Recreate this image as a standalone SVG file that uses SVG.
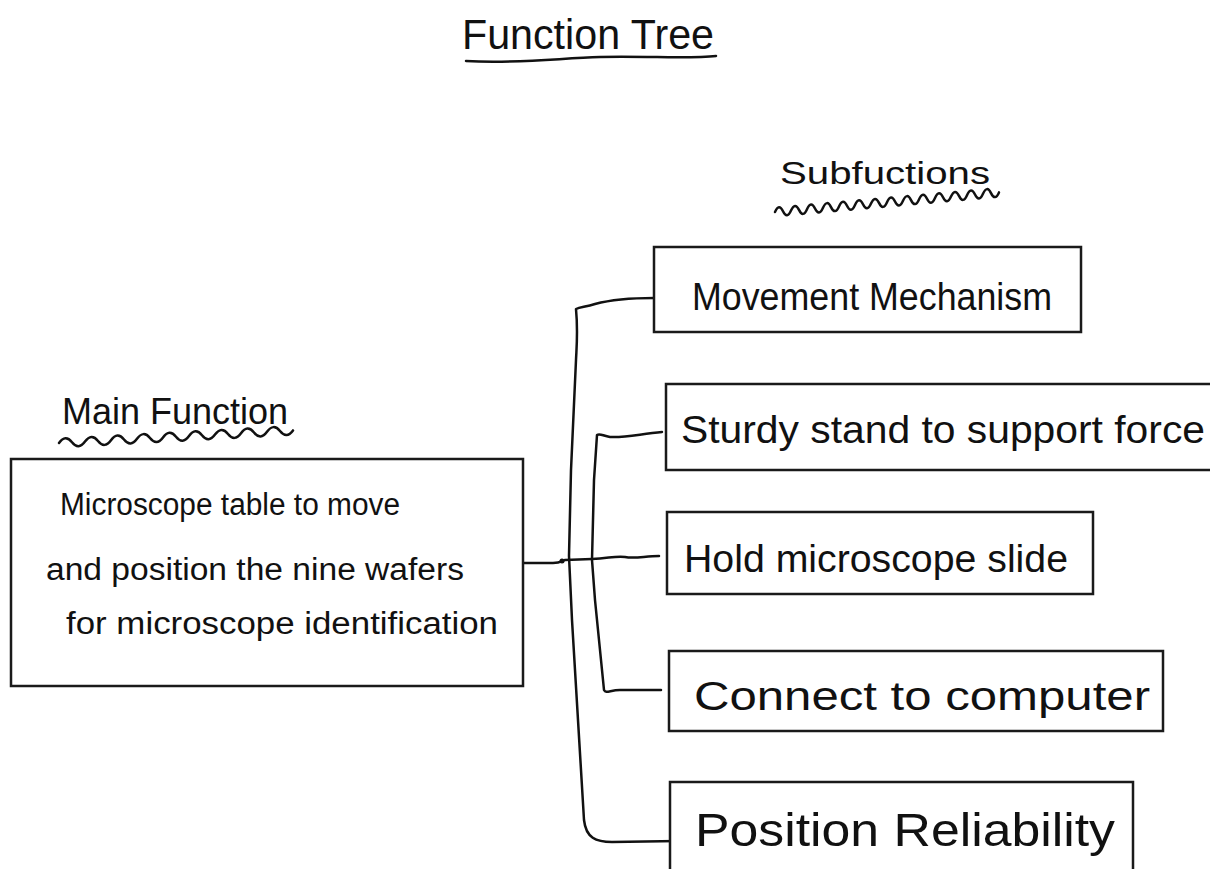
<svg xmlns="http://www.w3.org/2000/svg" width="1210" height="869" viewBox="0 0 1210 869">
<style>
.box{fill:#fff;stroke:#1a1a1a;stroke-width:2.5}
.ink{fill:none;stroke:#111;stroke-width:2.5;stroke-linecap:round;stroke-linejoin:round}
.t{font-family:"Liberation Sans",Arial,sans-serif;fill:#111}
</style>
<rect width="1210" height="869" fill="#fff"/>
<g id="title">
<text class="t" x="462" y="49" font-size="42" textLength="252" lengthAdjust="spacingAndGlyphs">Function Tree</text>
<path class="ink" d="M466,61 C520,64 560,58 600,57 C650,56 690,59 716,56"/>
</g>
<g id="subfunctions-label">
<text class="t" x="780" y="184" font-size="32" textLength="210" lengthAdjust="spacingAndGlyphs">Subfuctions</text>
<path class="ink" d="M775,212 q4,-9 8,-0.7 t8,-0.7 t8,-0.7 t8,-0.7 t8,-0.7 t8,-0.7 t8,-0.7 t8,-0.7 t8,-0.7 t8,-0.7 t8,-0.7 t8,-0.7 t8,-0.7 t8,-0.7 t8,-0.7 t8,-0.7 t8,-0.7 t8,-0.7 t8,-0.7 t8,-0.7 t8,-0.7 t8,-0.7 t8,-0.7 t8,-0.7 t8,-0.7 t8,-0.7 t8,-0.7 t8,-0.7"/>
</g>
<g id="main-label">
<text class="t" x="62" y="424" font-size="36" textLength="226" lengthAdjust="spacingAndGlyphs">Main Function</text>
<path class="ink" d="M59,443 q6.5,-9 13,-0.7 t13,-0.7 t13,-0.7 t13,-0.7 t13,-0.7 t13,-0.7 t13,-0.7 t13,-0.7 t13,-0.7 t13,-0.7 t13,-0.7 t13,-0.7 t13,-0.7 t13,-0.7 t13,-0.7 t13,-0.7 t13,-0.7 t13,-0.7"/>
</g>
<g id="connectors">
<path class="ink" d="M654,298 C625,298 610,300 595,304 C585,307 580,307 576,309 C578,330 577,340 576,360 L571,470 L569,556 L572,620 L584,820 C586,838 596,842 612,842 L678,841"/>
<path class="ink" d="M662,432 C640,434 625,438 610,437 C603,436 600,433 597,435 L594,480 L592,560 L595,600 L604,690 C606,694 610,690 620,690 L661,690"/>
<path class="ink" d="M523,563 L553,563 C560,563 562,561 565,560 L592,559 C610,558 615,556 625,557 C635,559 645,556 659,556"/>
<circle cx="562" cy="561" r="2.5" fill="#111"/>
</g>
<g id="main">
<rect class="box" x="11" y="459" width="512" height="227"/>
<text class="t" font-size="31">
<tspan x="60" y="515" textLength="340" lengthAdjust="spacingAndGlyphs">Microscope table to move</tspan>
<tspan x="46" y="580" textLength="418" lengthAdjust="spacingAndGlyphs">and position the nine wafers</tspan>
<tspan x="66" y="634" textLength="432" lengthAdjust="spacingAndGlyphs">for microscope identification</tspan>
</text>
</g>
<g id="movement">
<rect class="box" x="654" y="247" width="427" height="85"/>
<text class="t" x="692" y="310" font-size="38" textLength="360" lengthAdjust="spacingAndGlyphs">Movement Mechanism</text>
</g>
<g id="sturdy">
<rect class="box" x="666" y="384" width="560" height="86"/>
<text class="t" x="681" y="443" font-size="38" textLength="524" lengthAdjust="spacingAndGlyphs">Sturdy stand to support force</text>
</g>
<g id="hold">
<rect class="box" x="667" y="512" width="426" height="82"/>
<text class="t" x="684" y="572" font-size="38" textLength="384" lengthAdjust="spacingAndGlyphs">Hold microscope slide</text>
</g>
<g id="connect">
<rect class="box" x="669" y="651" width="494" height="80"/>
<text class="t" x="694" y="710" font-size="40" textLength="456" lengthAdjust="spacingAndGlyphs">Connect to computer</text>
</g>
<g id="position">
<rect class="box" x="670" y="782" width="463" height="100"/>
<text class="t" x="695" y="846" font-size="46" textLength="420" lengthAdjust="spacingAndGlyphs">Position Reliability</text>
</g>
</svg>
